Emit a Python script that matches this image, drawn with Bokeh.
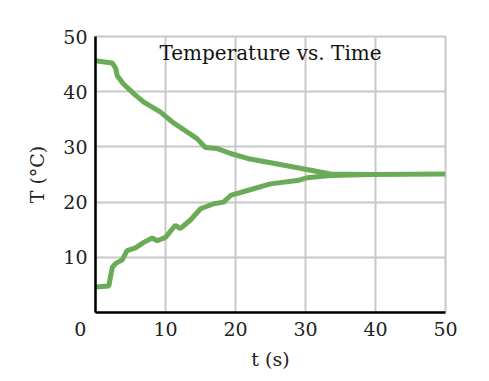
from bokeh.plotting import figure
from bokeh.models import Label, Range1d, FixedTicker
from bokeh.embed import file_html
from bokeh.resources import INLINE

# data
hot_t = [0, 2.4, 2.9, 3.1, 4.0, 5.5, 6.9, 9.3, 11.0, 13.1, 14.5, 15.7, 17.4, 19.3, 22.1, 26.0, 29.8, 33.6, 39.3, 50.0]
hot_T = [45.6, 45.2, 44.2, 42.9, 41.4, 39.6, 38.1, 36.3, 34.5, 32.7, 31.5, 29.9, 29.7, 28.8, 27.8, 26.9, 26.0, 25.1, 25.0, 25.1]
cold_t = [0, 1.9, 2.4, 2.9, 3.8, 4.5, 5.7, 6.9, 8.1, 8.8, 10.0, 11.4, 12.1, 13.6, 15.0, 16.9, 18.3, 19.3, 21.7, 25.0, 28.8, 30.2, 33.6, 39.3]
cold_T = [4.6, 4.8, 8.2, 8.9, 9.5, 11.2, 11.7, 12.7, 13.5, 13.0, 13.6, 15.8, 15.2, 16.8, 18.8, 19.7, 20.0, 21.2, 22.1, 23.3, 23.9, 24.4, 24.8, 25.0]
x_ticks = [0, 10, 20, 30, 40, 50]
y_ticks = [10, 20, 30, 40, 50]
title_text = "Temperature vs. Time"
x_label = "t (s)"
y_label = "T (°C)"

FONT = "DejaVu Serif"
GREEN = "#6aab58"
GRID = "#c8c8c8"
TXT = "#222222"

p = figure(width=480, height=381, output_backend="svg", toolbar_location=None,
           x_range=Range1d(0, 50), y_range=Range1d(0, 50),
           min_border_left=95, min_border_right=35, min_border_top=36, min_border_bottom=69)
p.outline_line_color = GRID
p.outline_line_width = 2

for ax in (p.xaxis, p.yaxis):
    ax.axis_line_color = "black"
    ax.axis_line_width = 2.5
    ax.major_tick_line_color = None
    ax.minor_tick_line_color = None
    ax.major_tick_out = 0
    ax.major_tick_in = 0
    ax.minor_tick_out = 0
    ax.major_label_text_font = FONT
    ax.major_label_text_font_size = "19px"
    ax.major_label_text_color = TXT
    ax.axis_label_text_font = FONT
    ax.axis_label_text_font_size = "19px"
    ax.axis_label_text_font_style = "normal"
    ax.axis_label_text_color = TXT

p.xaxis.axis_label = x_label
p.yaxis.axis_label = y_label
p.xaxis.axis_label_standoff = 5
p.yaxis.axis_label_standoff = 12

p.xaxis.ticker = FixedTicker(ticks=x_ticks)
p.yaxis.ticker = FixedTicker(ticks=y_ticks)
p.xaxis.major_label_overrides = {0: "0" + "\u00a0" * 5}
p.xaxis.major_label_standoff = 5
p.yaxis.major_label_standoff = 8

p.xgrid.ticker = FixedTicker(ticks=x_ticks)
p.ygrid.ticker = FixedTicker(ticks=y_ticks)
for g in (p.xgrid, p.ygrid):
    g.grid_line_color = GRID
    g.grid_line_width = 2

p.line(hot_t, hot_T, line_color=GREEN, line_width=5)
p.line(cold_t, cold_T, line_color=GREEN, line_width=5)

# title inside the plot
p.add_layout(Label(x=25, y=50, y_offset=-4, text=title_text, text_font=FONT,
                   text_font_size="20px", text_align="center", text_baseline="top",
                   text_color="#111111"))

open("out.html", "w").write(file_html(p, INLINE))
